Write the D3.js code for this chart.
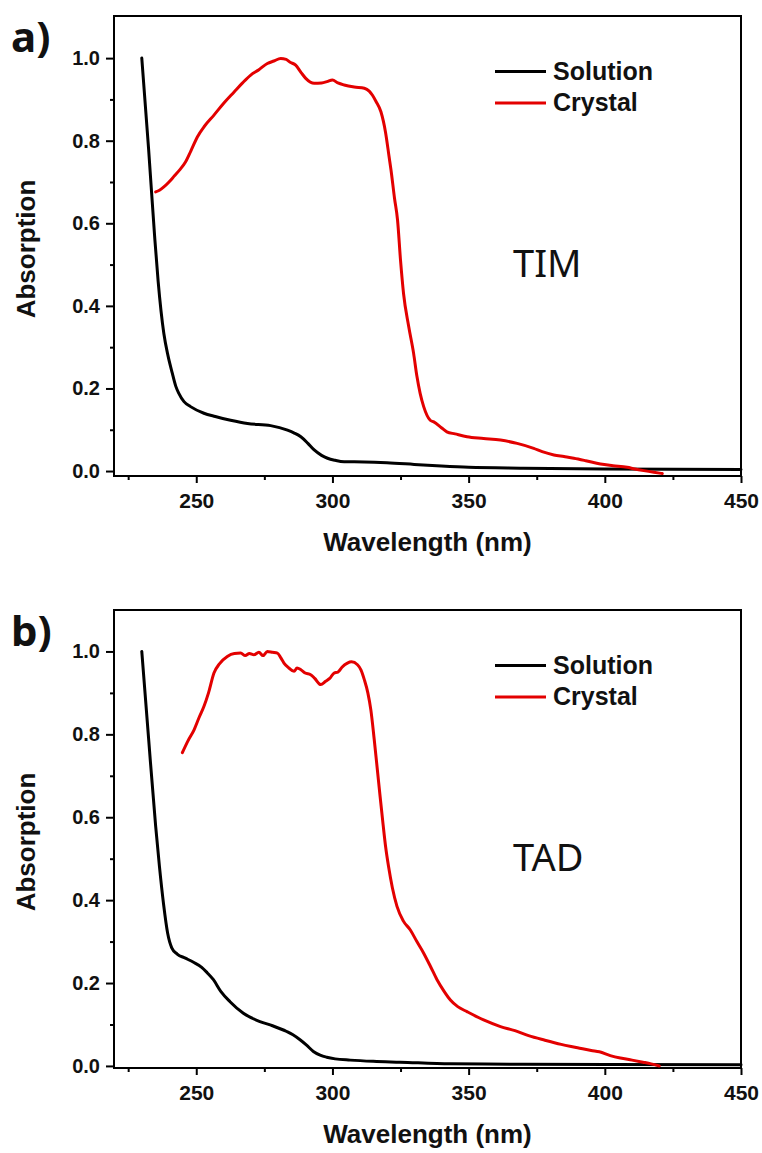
<!DOCTYPE html>
<html>
<head>
<meta charset="utf-8">
<script src="https://cdn.jsdelivr.net/npm/d3@7"></script>
<style>
  html, body { margin: 0; padding: 0; background: #fff; }
  svg { display: block; }
</style>
</head>
<body>
<svg id="chart" width="762" height="1153"></svg>
<script>
// UV-vis absorption spectra (normalised): solution vs crystal, two compounds

const panelLabels = ["a)", "b)"];
const compoundNames = ["TIM", "TAD"];
const seriesNames = ["Solution", "Crystal"];
const seriesColors = ["#000000", "#e30000"];

const xTicksMajor = [250, 300, 350, 400, 450];
const xTicksMinor = [225, 275, 325, 375, 425];
const yTicksMajor = [0.0, 0.2, 0.4, 0.6, 0.8, 1.0];
const yTicksMinor = [0.1, 0.3, 0.5, 0.7, 0.9];

// [wavelength nm, absorption]
const timSolution = [
  [230,1.0],[232.5,0.78],[234.7,0.57],[236,0.46],[238.1,0.333],[239.6,0.28],[241.2,0.237],
  [242.5,0.205],[243.6,0.188],[245.5,0.168],[247.9,0.156],[252.8,0.140],[257,0.132],
  [262.6,0.123],[268.8,0.115],[277.3,0.110],[283.5,0.099],[286,0.092],[288.4,0.083],
  [291,0.067],[293.3,0.051],[296,0.038],[298.2,0.031],[301,0.026],[304.3,0.0225],
  [311.7,0.022],[320,0.02],[330,0.016],[340,0.012],[350,0.009],[370,0.007],[400,0.005],[450,0.004]
];
const timCrystal = [
  [235.1,0.676],[236.5,0.68],[238.1,0.688],[240,0.70],[242,0.715],[244,0.73],[246.1,0.749],
  [248,0.775],[250.4,0.809],[253,0.835],[256.5,0.862],[260,0.89],[263.9,0.918],[267,0.94],
  [270,0.959],[273,0.972],[276.1,0.987],[278.5,0.993],[281,0.999],[283,0.997],[284.5,0.99],
  [286.5,0.983],[288.5,0.965],[290.2,0.951],[293.3,0.939],[296,0.94],[298,0.943],[300,0.947],
  [302,0.94],[304.3,0.935],[308,0.93],[311.7,0.927],[313.5,0.92],[314.7,0.91],[316,0.895],
  [317.8,0.87],[319.5,0.82],[320.8,0.761],[321.5,0.729],[322.8,0.66],[323.9,0.608],[325,0.51],
  [326.1,0.43],[328,0.35],[329.8,0.285],[331,0.23],[332.2,0.188],[333.5,0.156],[335.9,0.123],
  [337.2,0.119],[340,0.105],[342,0.095],[345,0.09],[349.4,0.083],[355.5,0.079],[361.7,0.075],
  [367.8,0.067],[373.9,0.055],[377,0.047],[381.3,0.039],[385,0.035],[388.6,0.031],[393,0.025],
  [398.4,0.017],[403,0.013],[408.2,0.009],[411,0.005],[414.3,0.001],[418,-0.003],[421.1,-0.006]
];
const tadSolution = [
  [230,1.0],[232.5,0.79],[235.1,0.578],[236.5,0.48],[238,0.39],[239.5,0.32],[241,0.285],
  [243,0.27],[246,0.26],[249,0.25],[252,0.238],[254,0.225],[256.3,0.208],[259,0.18],
  [262.4,0.155],[267.3,0.127],[273.4,0.107],[278,0.097],[283.2,0.083],[285.5,0.075],
  [288.1,0.063],[290.5,0.05],[293,0.035],[295.5,0.026],[297.9,0.021],[301,0.017],
  [306.5,0.014],[315,0.011],[324.9,0.009],[343.3,0.005],[370,0.004],[450,0.003]
];
const tadCrystal = [
  [244.9,0.756],[247,0.785],[249.2,0.811],[251,0.84],[252.8,0.867],[254.5,0.90],[256.5,0.948],
  [258.5,0.97],[261.4,0.988],[264,0.995],[266.3,0.996],[268,0.99],[269.5,0.995],[271.2,0.992],
  [273,0.998],[274.5,0.99],[276.1,1.0],[278,0.998],[279.8,0.996],[281,0.985],[282.2,0.972],
  [284,0.96],[285.9,0.952],[287,0.96],[288.4,0.956],[290,0.948],[292,0.944],[293.5,0.935],
  [295.7,0.920],[297.5,0.928],[299,0.935],[300.6,0.948],[302,0.95],[303.5,0.962],[305.5,0.972],
  [307,0.975],[309.2,0.968],[310.5,0.955],[311.7,0.932],[313,0.9],[314.1,0.859],[315.3,0.79],
  [316.5,0.714],[317.5,0.65],[318.6,0.582],[319.5,0.53],[320.6,0.481],[322,0.43],[323.7,0.385],
  [326,0.35],[328.6,0.328],[331,0.30],[333.5,0.272],[336,0.24],[338.4,0.208],[341,0.18],
  [343.3,0.159],[346,0.143],[349.4,0.131],[355.5,0.111],[361.7,0.095],[367,0.085],[372,0.073],
  [378,0.062],[384,0.052],[390,0.044],[395,0.037],[398,0.034],[402,0.025],[405.7,0.019],
  [410,0.014],[414,0.009],[417,0.005],[420,0.0]
];

const panelSeries = [[timSolution, timCrystal], [tadSolution, tadCrystal]];
const yDomains = [[-0.012, 1.102], [-0.005, 1.1]];
const xDomain = [219.8, 450];

const svg = d3.select("#chart");
const left = 114, right = 741;
const frames = [{ top: 16, bottom: 476 }, { top: 610, bottom: 1068 }];
const numFont = "'Liberation Sans', Arial, sans-serif";
const labelFont = "'Noto Sans', 'Open Sans', sans-serif";

frames.forEach((f, i) => {
  const g = svg.append("g");
  const x = d3.scaleLinear().domain(xDomain).range([left, right]);
  const y = d3.scaleLinear().domain(yDomains[i]).range([f.bottom, f.top]);

  // bottom axis: major + minor ticks, outward
  const xAxis = g.append("g").attr("transform", `translate(0,${f.bottom})`)
    .call(d3.axisBottom(x).tickValues(xTicksMajor).tickSize(7).tickPadding(10)
      .tickFormat(d3.format("d")));
  g.append("g").attr("transform", `translate(0,${f.bottom})`)
    .call(d3.axisBottom(x).tickValues(xTicksMinor).tickSize(4).tickFormat(""))
    .call(a => a.select(".domain").remove());

  g.append("g").attr("transform", `translate(${left},0)`)
    .call(d3.axisLeft(y).tickValues(yTicksMajor).tickSize(8).tickPadding(6)
      .tickFormat(d3.format(".1f")));
  g.append("g").attr("transform", `translate(${left},0)`)
    .call(d3.axisLeft(y).tickValues(yTicksMinor).tickSize(4).tickFormat(""))
    .call(a => a.select(".domain").remove());

  g.selectAll(".domain").remove();
  g.selectAll(".tick line").attr("stroke", "#000").attr("stroke-width", 2);
  g.selectAll(".tick text").attr("fill", "#111").attr("font-family", numFont)
    .attr("font-weight", "bold").attr("font-size", 20);
  xAxis.selectAll(".tick text").attr("font-size", 21);

  // frame
  g.append("rect").attr("x", left).attr("y", f.top)
    .attr("width", right - left).attr("height", f.bottom - f.top)
    .attr("fill", "none").attr("stroke", "#000").attr("stroke-width", 2);

  // spectra
  const line = d3.line().x(d => x(d[0])).y(d => y(d[1])).curve(d3.curveMonotoneX);
  panelSeries[i].forEach((s, k) => {
    g.append("path").datum(s).attr("d", line)
      .attr("fill", "none").attr("stroke", seriesColors[k])
      .attr("stroke-width", 3).attr("stroke-linejoin", "round").attr("stroke-linecap", "round");
  });

  // legend
  seriesNames.forEach((name, k) => {
    const ly = f.top + 55.5 + k * 31.5;
    g.append("line").attr("x1", 495).attr("x2", 546).attr("y1", ly).attr("y2", ly)
      .attr("stroke", seriesColors[k]).attr("stroke-width", 3);
    g.append("text").attr("x", 553).attr("y", ly + 8).text(name)
      .attr("font-family", numFont).attr("font-weight", "bold").attr("font-size", 25).attr("fill", "#111");
  });

  // axis titles
  g.append("text").attr("x", (left + right) / 2).attr("y", f.bottom + 75)
    .attr("text-anchor", "middle").text("Wavelength (nm)")
    .attr("font-family", numFont).attr("font-weight", "bold").attr("font-size", 26).attr("fill", "#111");
  g.append("text")
    .attr("transform", `translate(35,${(f.top + f.bottom) / 2 + 3}) rotate(-90)`)
    .attr("text-anchor", "middle").text("Absorption")
    .attr("font-family", numFont).attr("font-weight", "bold").attr("font-size", 26).attr("fill", "#111");

  // panel tag and compound name
  g.append("text").attr("x", 11).attr("y", f.top + 36).text(panelLabels[i])
    .attr("font-family", labelFont).attr("font-weight", "bold").attr("font-size", 42).attr("fill", "#111");
  g.append("text").attr("x", 513).attr("y", f.top + 261).text(compoundNames[i])
    .attr("font-family", labelFont).attr("font-size", 38).attr("fill", "#111");
});
</script>
</body>
</html>
